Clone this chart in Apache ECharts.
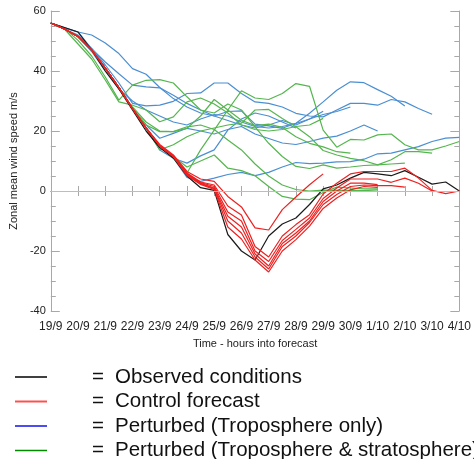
<!DOCTYPE html>
<html><head><meta charset="utf-8">
<script src="https://cdn.jsdelivr.net/npm/echarts@6/dist/echarts.min.js"></script>
<style>html,body{margin:0;padding:0;background:#fff}#c{width:474px;height:459px}</style>
</head><body><div id="c"></div><script>
// Day tick labels (data are 12-hourly between them)
const dayLabels = ['19/9','20/9','21/9','22/9','23/9','24/9','25/9','26/9','27/9','28/9','29/9','30/9','1/10','2/10','3/10','4/10'];
const N = null;

// Observed conditions
const observed = [56,54.5,53,47,40,34,27,20,14.5,11,5,1.1,0.2,-14.5,-20,-23,-15,-11,-9,-4.5,0.7,2,4.3,6.2,5.7,5.1,6.8,4.6,2.3,3,0];

// Control forecasts
const control1 = [56,54,51.5,47,41,34.5,27.5,21,15.5,12,6.5,4,3.2,-1.8,-5.3,-12.3,-13,-6.2,-2,2.1,5.7,N,N,N,N,N,N,N,N,N,N];
const control2 = [56,54,51.5,47,41,34.5,27.5,21,15,11.5,6,3,2,-5,-8,-18.5,-22,-15,-11.2,-7.9,-1,2.6,5.7,6.5,6.5,6.5,7.6,4.3,0.2,-0.9,0];
const control3 = [56,54,51.5,47,41,34.5,27.5,21,15,11.5,5.8,2.8,1.5,-7,-10,-20,-23.5,-16.5,-12.8,-9,-2.5,1,4,4,4,2.9,4.3,2.6,0,N,N];
const control4 = [56,54,51.5,47,41,34.5,27.5,21,15,11.5,5.6,2.6,1,-8.4,-12,-21,-25,-17.5,-14,-10,-3.5,0,2.6,2.6,2.1,N,N,N,N,N,N];
const control5 = [56,54,51.5,47,41,34.5,27.5,21,15,11.5,5.4,2.4,0.8,-10,-14,-22,-26,-18.5,-15,-10.5,-4.5,-1.2,1.5,2,1.8,1.8,1.3,N,N,N,N];
const control6 = [56,54,51.5,47,41,34.5,27.5,21,15,11.5,5.2,2.2,0.5,-12,-16,-23,-27,-20,-16.2,-11.7,-5.8,-2.3,0.4,1.5,1.2,N,N,N,N,N,N];

// Perturbed (troposphere only)
const tropo1 = [56,54.3,53,52,49.3,45.8,40.8,38.9,34.5,30.8,28,26,25,26.5,26.7,22.3,21.7,20.9,22.6,25.9,29.7,33.6,36.4,36.1,33.8,31.6,28.3,N,N,N,N];
const tropo2 = [56,54,52,47.5,42,36,29.2,28.4,28.6,29.9,32.5,32.7,36,36,32.5,29.7,29.2,28,25.9,25,24.7,27,29.2,29.2,28.6,30.5,29.7,27.5,25.6,N,N];
const tropo3 = [56,54.5,53,47.4,43,39.1,35.3,34.7,34.4,31.9,29.2,27,25,23.5,22,21,22,23.5,22,24,26.6,N,N,N,N,N,N,N,N,N,N];
const tropo4 = [56,54,51.5,46.5,40,34,30,27,25,23,22,24,25.5,25,23,21.5,21,21.5,22.5,24,25.5,26.5,28,N,N,N,N,N,N,N,N];
const tropo5 = [56,54,51.5,47,41,34.5,27.5,22,17.6,19.2,20.9,20,19,20.5,21.5,19,17.5,16,15.5,16.5,17.6,18.3,20,22,20,N,N,N,N,N,N];
const tropo6 = [56,54,51.5,47,41,34.5,27.5,21,13.7,10.9,9.3,11.7,13.7,20.3,24,26,25,23,21,N,N,N,N,N,N,N,N,N,N,N,N];
const tropo7 = [56,54,51.5,47,41,34.5,27.5,21,15,11,4.5,3.2,4.3,5.5,6.2,5.1,6.2,8,9.5,9.1,9.3,9.7,9.8,10.6,12.4,12.6,13.7,14.8,16.5,17.6,17.9];

// Perturbed (troposphere & stratosphere)
const strat1 = [56,54,51.5,47,41,34.5,27.5,21,15,11,6,13.7,20.3,27,33.4,31,30.5,32.5,35.8,34.9,20.3,14.6,17.2,17,18.7,19,15.4,13.7,13.7,15,16.5];
const strat2 = [56,54.3,50.2,45,38,30.3,35.3,36.9,37.1,36,31.4,27,26,29,27,21.4,15.9,11.5,8.2,7.5,8.7,7.6,8,8.5,8.7,9,9.3,N,N,N,N];
const strat3 = [56,54,49,44,37,29.7,28.6,27,23.1,24.7,29.7,31,29,26,22,20.5,20,20.5,21.5,22,24.2,N,N,N,N,N,N,N,N,N,N];
const strat4 = [56,54,51.5,47,41,34.5,27.5,21,15,11.5,8,10,12,7.6,6.8,5.1,1.5,-1.8,-2.7,-2.9,-0.5,1.3,1,0.7,0.7,N,N,N,N,N,N];
const strat5 = [56,54,51.5,47,41,34,28,23,20,19.8,21.4,22,20.5,17,13.7,9,5,2,0.5,0,0.3,0.2,0.2,0.1,0.4,N,N,N,N,N,N];
const strat6 = [56,54,51.5,47,41,34.5,27.5,21,13.7,15.4,18.1,20,21,22,22.6,27,27.2,24.2,21.4,18.1,13.5,12,10.9,10.1,8.7,10.4,13.1,13.1,12.6,N,N];
const strat7 = [56,54,51.5,47,41,34.5,27.5,22,19.8,19.8,20.9,25,30.5,27,23.6,21.8,22.3,21.2,18.1,15.9,14.7,13.1,12.6,N,N,N,N,N,N,N,N];

const categories = [];
dayLabels.forEach((d, k) => { categories.push(d); if (k < dayLabels.length - 1) categories.push(d + ' 12h'); });

const NAME_OBS = 'Observed conditions', NAME_CTL = 'Control forecast',
      NAME_TRO = 'Perturbed (Troposphere only)', NAME_STR = 'Perturbed (Troposphere & stratosphere)';
const C_BLUE = '#4a8fd2', C_GREEN = '#55b64f', C_RED = '#ee2020', C_BLACK = '#1a1a1a';

function mk(name, data, color, w) {
  return { type: 'line', name, data, symbol: 'none', silent: true, animation: false,
    lineStyle: { color, width: w }, itemStyle: { color } };
}
const series = [];
[tropo1, tropo2, tropo3, tropo4, tropo5, tropo6, tropo7].forEach(d => series.push(mk(NAME_TRO, d, C_BLUE, 1.2)));
[strat1, strat2, strat3, strat4, strat5, strat6, strat7].forEach(d => series.push(mk(NAME_STR, d, C_GREEN, 1.2)));
series.push(mk(NAME_OBS, observed, C_BLACK, 1.2));
[control1, control2, control3, control4, control5, control6].forEach(d => series.push(mk(NAME_CTL, d, C_RED, 1.2)));
series[0].markLine = { silent: true, symbol: 'none', label: { show: false }, animation: false,
  lineStyle: { color: '#bdbdbd', type: 'solid', width: 1 }, data: [{ yAxis: 0 }] };

const AX = '#a8a8a8';
const font = 'Liberation Sans, Arial, sans-serif';
const yCommon = { type: 'value', min: -40, max: 60, interval: 20,
  axisLine: { show: true, lineStyle: { color: AX } },
  axisTick: { show: true, inside: true, length: 9, lineStyle: { color: AX } },
  minorTick: { show: true, splitNumber: 4, length: 5, lineStyle: { color: AX } },
  splitLine: { show: false } };

// one legend row per entry (vertical list below the plot)
const legendItems = [
  { name: NAME_OBS, color: '#000000', h: 1.5 },
  { name: NAME_CTL, color: '#ff5050', h: 2 },
  { name: NAME_TRO, color: '#1010f0', h: 1.5 },
  { name: NAME_STR, color: '#008a00', h: 1.5 }
];
const legends = legendItems.map((it, k) => ({
  orient: 'horizontal', left: 15, top: 366.5 + k * 24.5, itemWidth: 32, itemHeight: it.h,
  icon: 'rect', selectedMode: false, padding: 0,
  data: [{ name: it.name, itemStyle: { color: it.color } }],
  formatter: name => '{eq|=}' + name,
  textStyle: { fontSize: 20.5, color: '#111', fontFamily: font,
    rich: { eq: { fontSize: 20.5, fontFamily: font, color: '#111', width: 23, padding: [0, 0, 0, 40] } } }
}));

const chart = echarts.init(document.getElementById('c'), null, { renderer: 'canvas' });
chart.setOption({
  animation: false,
  backgroundColor: '#fff',
  grid: { left: 50, right: 13, top: 11, bottom: 148, containLabel: false },
  xAxis: [
    { type: 'category', data: categories, boundaryGap: false, position: 'bottom',
      axisLine: { lineStyle: { color: AX } },
      axisTick: { inside: true, length: 5, interval: 1, lineStyle: { color: AX } },
      axisLabel: { interval: 1, color: '#222', fontSize: 12, margin: 10, fontFamily: font },
      name: 'Time - hours into forecast', nameLocation: 'middle', nameGap: 27,
      nameTextStyle: { fontSize: 11, color: '#222', fontFamily: font } },
    { type: 'category', data: categories, boundaryGap: false, position: 'top',
      axisLine: { lineStyle: { color: AX } },
      axisTick: { inside: true, length: 5, interval: 1, lineStyle: { color: AX } },
      axisLabel: { show: false } }
  ],
  yAxis: [
    Object.assign({}, yCommon, { position: 'left',
      axisLabel: { color: '#222', fontSize: 11, margin: 5, fontFamily: font },
      name: 'Zonal mean wind speed m/s', nameLocation: 'middle', nameGap: 30, nameRotate: 90,
      nameTextStyle: { fontSize: 11, color: '#222', fontFamily: font } }),
    Object.assign({}, yCommon, { position: 'right', axisLabel: { show: false } })
  ],
  legend: legends,
  series
});
</script></body></html>
